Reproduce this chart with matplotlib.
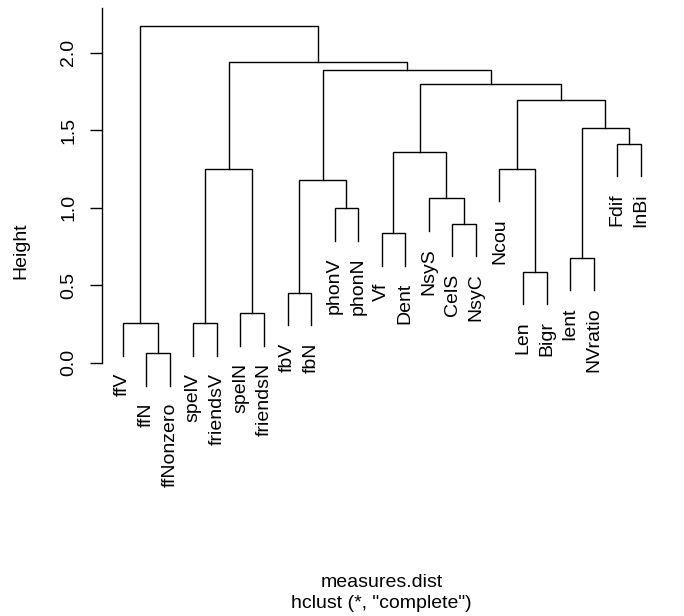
import matplotlib
matplotlib.use("Agg")
import matplotlib.pyplot as plt

# ---- data -------------------------------------------------------------
labels = ["ffV", "ffN", "ffNonzero", "spelV", "friendsV", "spelN", "friendsN",
          "fbV", "fbN", "phonV", "phonN", "Vf", "Dent", "NsyS", "CelS", "NsyC",
          "Ncou", "Len", "Bigr", "Ient", "NVratio", "Fdif", "InBi"]

# merges in R hclust style: negative = leaf (1-based index into labels),
# positive = earlier merge (1-based)
merge_a = [-2, -1, -4, -6, 3, -8, -10, 6, -12, -15, -14, 9, -18, -17, -20, -22, 15, 14, 12, 8, 5, 2]
merge_b = [-3, 1, -5, -7, 4, -9, -11, 7, -13, -16, 10, 11, -19, 13, -21, -23, 16, 17, 18, 19, 20, 21]
merge_h = [0.062, 0.256, 0.256, 0.318, 1.247, 0.452, 0.998, 1.176, 0.834, 0.897,
           1.060, 1.357, 0.587, 1.252, 0.677, 1.413, 1.516, 1.695, 1.796, 1.888,
           1.938, 2.174]
yticks = [0.0, 0.5, 1.0, 1.5, 2.0]
ytick_labels = ["0.0", "0.5", "1.0", "1.5", "2.0"]
ylabel = "Height"
xlabel = "measures.dist"
sublabel = 'hclust (*, "complete")'

# ---- figure -------------------------------------------------------------
plt.rcParams['font.family'] = ['Liberation Sans', 'DejaVu Sans']
W, H = 684, 616
fig = plt.figure(figsize=(W / 100, H / 100), dpi=100)
ax = fig.add_axes([102 / W, 1 - 401.4 / H, 559.4 / W, (401.4 - 8.4) / H])
n = len(labels)
ax.set_xlim(1 - 0.04 * (n - 1), n + 0.04 * (n - 1))
ax.set_ylim(-0.25, 2.2855)

hang = 0.1 * (max(merge_h) - min(merge_h))
leaf_x = {i + 1: i + 1 for i in range(n)}  # leaves are given in plotted order

node_x = {}
def xpos(ref):
    if ref < 0:
        return leaf_x[-ref]
    return node_x[ref]

lw = 1.0
for k, (a, b, h) in enumerate(zip(merge_a, merge_b, merge_h), start=1):
    xa, xb = xpos(a), xpos(b)
    ya = merge_h[a - 1] if a > 0 else h - hang
    yb = merge_h[b - 1] if b > 0 else h - hang
    ax.plot([xa, xa, xb, xb], [ya, h, h, yb], color='black', lw=lw,
            solid_joinstyle='miter', clip_on=False)
    node_x[k] = (xa + xb) / 2
    for ref, y in ((a, ya), (b, yb)):
        if ref < 0:
            ax.annotate(labels[-ref - 1], xy=(xpos(ref), y), xytext=(0, -12.2),
                        textcoords='offset points', rotation=90,
                        ha='center', va='top', fontsize=14, annotation_clip=False)

for s in ('top', 'right', 'bottom'):
    ax.spines[s].set_visible(False)
ax.spines['left'].set_bounds(0, 2.2855)
ax.spines['left'].set_linewidth(lw)
ax.set_xticks([])
ax.set_yticks(yticks)
ax.set_yticklabels(ytick_labels, fontsize=14, rotation=90, va='center')
ax.tick_params(axis='y', length=8.4, width=lw, pad=9.5)
ax.patch.set_alpha(0)

fig.text(20.7 / W, 1 - 250.5 / H, ylabel, rotation=90, ha='center', va='center', fontsize=14)
fig.text(381.7 / W, 1 - 586.8 / H, xlabel, ha='center', va='baseline', fontsize=14)
fig.text(381.7 / W, 1 - 608.0 / H, sublabel, ha='center', va='baseline', fontsize=14)

fig.savefig("out.png", dpi=100)
